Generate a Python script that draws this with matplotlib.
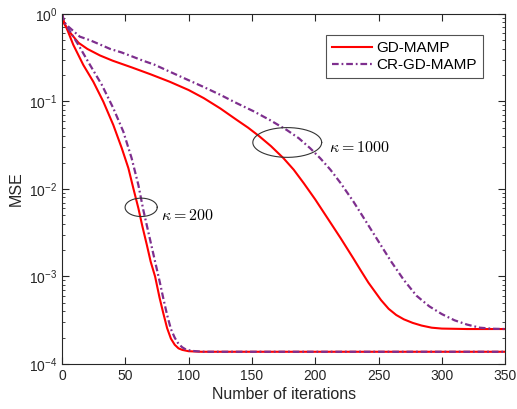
import matplotlib.pyplot as plt
import numpy as np

plt.rcParams['font.family'] = ['Liberation Sans', 'DejaVu Sans']

# kappa = 1000
it_gd_1000 = [0, 1, 5, 13, 20, 30, 40, 55, 70, 85, 100, 112, 125, 138, 147, 156, 165, 175, 183, 191, 200, 210, 220,
              230, 236, 242, 247, 252, 258, 264, 270, 277, 284, 292, 300, 320, 350]
mse_gd_1000 = [1.0, 0.80, 0.646, 0.468, 0.398, 0.335, 0.292, 0.245, 0.204, 0.168, 0.135, 0.109, 0.0832, 0.0615,
               0.0501, 0.0398, 0.0309, 0.0224, 0.0166, 0.0116, 0.00759, 0.00457, 0.00275, 0.00162, 0.00117,
               0.000851, 0.000676, 0.000537, 0.000427, 0.000363, 0.000324, 0.000295, 0.000275, 0.00026, 0.000254,
               0.000251, 0.000251]
it_cr_1000 = [0, 1, 5, 14, 22, 30, 38, 47, 56, 64, 73, 85, 98, 112, 125, 138, 151, 164, 177.5, 187, 196, 204, 212,
              220, 230, 240, 250, 260, 270, 280, 290, 300, 310, 320, 330, 340, 350]
mse_cr_1000 = [1.0, 0.822, 0.716, 0.55, 0.501, 0.447, 0.398, 0.363, 0.324, 0.292, 0.263, 0.219, 0.18, 0.146, 0.119,
               0.0955, 0.0776, 0.0615, 0.0472, 0.038, 0.0292, 0.0224, 0.0166, 0.0117, 0.00724, 0.00427, 0.00251,
               0.00148, 0.000912, 0.000603, 0.000457, 0.000372, 0.000316, 0.000282, 0.00026, 0.000253, 0.000251]

# kappa = 200
it_gd_200 = [0, 1.5, 3.7, 8.9, 16.8, 24.7, 32.6, 40.5, 47.2, 52.4, 56.3, 60.3, 63.5, 67, 70, 73.5, 77, 80, 83, 86,
             89, 92, 95, 100, 110, 350]
mse_gd_200 = [1.0, 0.813, 0.685, 0.443, 0.261, 0.168, 0.0995, 0.0538, 0.0292, 0.0173, 0.0102, 0.00603, 0.00372,
              0.00229, 0.00148, 0.001, 0.000575, 0.00038, 0.000257, 0.000195, 0.000166, 0.000151, 0.000145,
              0.00014, 0.000138, 0.000138]
it_cr_200 = [0, 2, 6.3, 12.9, 22.1, 31.4, 40.5, 48.4, 55, 60.3, 64.2, 67.5, 70.5, 73.5, 77, 80, 83, 86, 89, 92, 95,
             98, 103, 112, 350]
mse_cr_200 = [1.0, 0.794, 0.631, 0.443, 0.261, 0.155, 0.0836, 0.0452, 0.0224, 0.0111, 0.00575, 0.00355, 0.00229,
              0.00148, 0.000891, 0.000562, 0.000363, 0.000251, 0.0002, 0.00017, 0.000155, 0.000146, 0.000141,
              0.000138, 0.000138]

red = '#FF0000'
purple = '#7E2F8E'
gray = '#262626'
dashdot = (0, (3.0, 1.3, 0.8, 1.3))

fig = plt.figure(figsize=(5.17, 4.09), dpi=100)
ax = fig.add_axes([0.12, 0.110, 0.857, 0.856])

ax.semilogy(it_gd_1000, mse_gd_1000, '-', color=red, lw=1.5, label='GD-MAMP')
ax.semilogy(it_cr_1000, mse_cr_1000, linestyle=dashdot, color=purple, lw=1.6, label='CR-GD-MAMP')
ax.semilogy(it_gd_200, mse_gd_200, '-', color=red, lw=1.5)
ax.semilogy(it_cr_200, mse_cr_200, linestyle=dashdot, color=purple, lw=1.6)

# ellipses marking the two groups (drawn in log space)
t = np.linspace(0, 2 * np.pi, 200)
for cx, cy, hw, hh in [(62.5, -2.21, 12.7, 0.105), (177.9, -1.469, 27.2, 0.17)]:
    ax.plot(cx + hw * np.cos(t), 10 ** (cy + hh * np.sin(t)), color='#333333', lw=0.8)

ax.text(78.5, 10 ** -2.3, r'$\kappa = 200$', fontsize=11.5, math_fontfamily='cm', va='center', ha='left')
ax.text(210.5, 10 ** -1.53, r'$\kappa = 1000$', fontsize=11.5, math_fontfamily='cm', va='center', ha='left')

ax.set_xlim(0, 350)
ax.set_ylim(1e-4, 1)
ax.set_xticks([0, 50, 100, 150, 200, 250, 300, 350])
ax.set_xlabel('Number of iterations', fontsize=11.5, color=gray, labelpad=3)
ax.set_ylabel('MSE', fontsize=11.5, color=gray, labelpad=4)

ax.tick_params(which='both', direction='in', top=True, right=True, colors=gray, labelsize=10)
ax.tick_params(which='major', length=5)
ax.tick_params(which='minor', length=2.5)
for s in ax.spines.values():
    s.set_color(gray)
    s.set_linewidth(0.8)

leg = ax.legend(loc='upper right', bbox_to_anchor=(0.95, 0.94), borderaxespad=0, fontsize=11,
                fancybox=False, edgecolor=gray, handlelength=2.6, handletextpad=0.3, labelspacing=0.2,
                borderpad=0.4)
leg.get_frame().set_linewidth(0.8)

fig.savefig('out.png', dpi=100)
